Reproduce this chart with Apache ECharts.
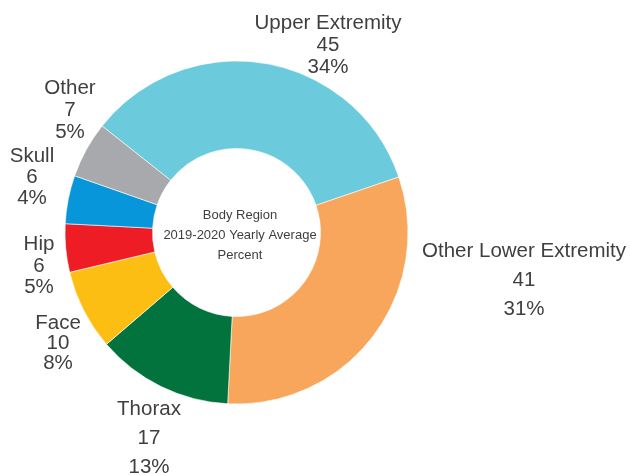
<!DOCTYPE html>
<html>
<head>
<meta charset="utf-8">
<script src="https://cdn.jsdelivr.net/npm/echarts@6/dist/echarts.min.js"></script>
<style>html,body{margin:0;padding:0;background:#fff;}#c{width:630px;height:475px;}</style>
</head>
<body>
<div id="c"></div>
<script>
// Data
var categories = ['Upper Extremity', 'Other Lower Extremity', 'Thorax', 'Face', 'Hip', 'Skull', 'Other'];
var values = [45, 41, 17, 10, 6, 6, 7];
var percents = ['34%', '31%', '13%', '8%', '5%', '4%', '5%'];
var centerTitle = ['Body Region', '2019-2020 Yearly Average', 'Percent'];

// Styles / layout (not data)
var colors = ['#6BCBDC', '#F8A65B', '#03733E', '#FDBE13', '#EE1D25', '#0796D9', '#A8A9AD'];
var labelPos = [[328, 45], [524, 280], [149, 438], [58, 343], [39, 266], [32, 177], [70, 110]];
var labelLH = [22, 29, 29, 20, 21.5, 21, 22];

var chart = echarts.init(document.getElementById('c'), null, {renderer: 'canvas'});
var data = categories.map(function (n, i) {
  return {
    name: n,
    value: values[i],
    itemStyle: {color: colors[i]},
    label: {lineHeight: labelLH[i]}
  };
});
chart.setOption({
  animation: false,
  backgroundColor: '#fff',
  graphic: [{
    type: 'text',
    x: 240,
    y: 235,
    style: {
      text: centerTitle.join('\n'),
      fill: '#3F3F3F',
      font: '13px "Liberation Sans"',
      lineHeight: 20,
      align: 'center',
      verticalAlign: 'middle'
    },
    z: 10
  }],
  series: [{
    type: 'pie',
    center: [236.5, 232.5],
    radius: [84, 171.5],
    startAngle: 141.6,
    clockwise: true,
    avoidLabelOverlap: false,
    itemStyle: {borderColor: '#fff', borderWidth: 0.6},
    label: {
      show: true,
      position: 'outside',
      color: '#3F3F3F',
      fontFamily: 'Liberation Sans',
      fontSize: 20.5,
      align: 'center',
      formatter: function (p) {
        return p.name + '\n' + values[p.dataIndex] + '\n' + percents[p.dataIndex];
      }
    },
    labelLine: {show: false},
    labelLayout: function (p) {
      var pos = labelPos[p.dataIndex];
      return {x: pos[0], y: pos[1], align: 'center', verticalAlign: 'middle'};
    },
    emphasis: {disabled: true},
    data: data
  }]
});
</script>
</body>
</html>
